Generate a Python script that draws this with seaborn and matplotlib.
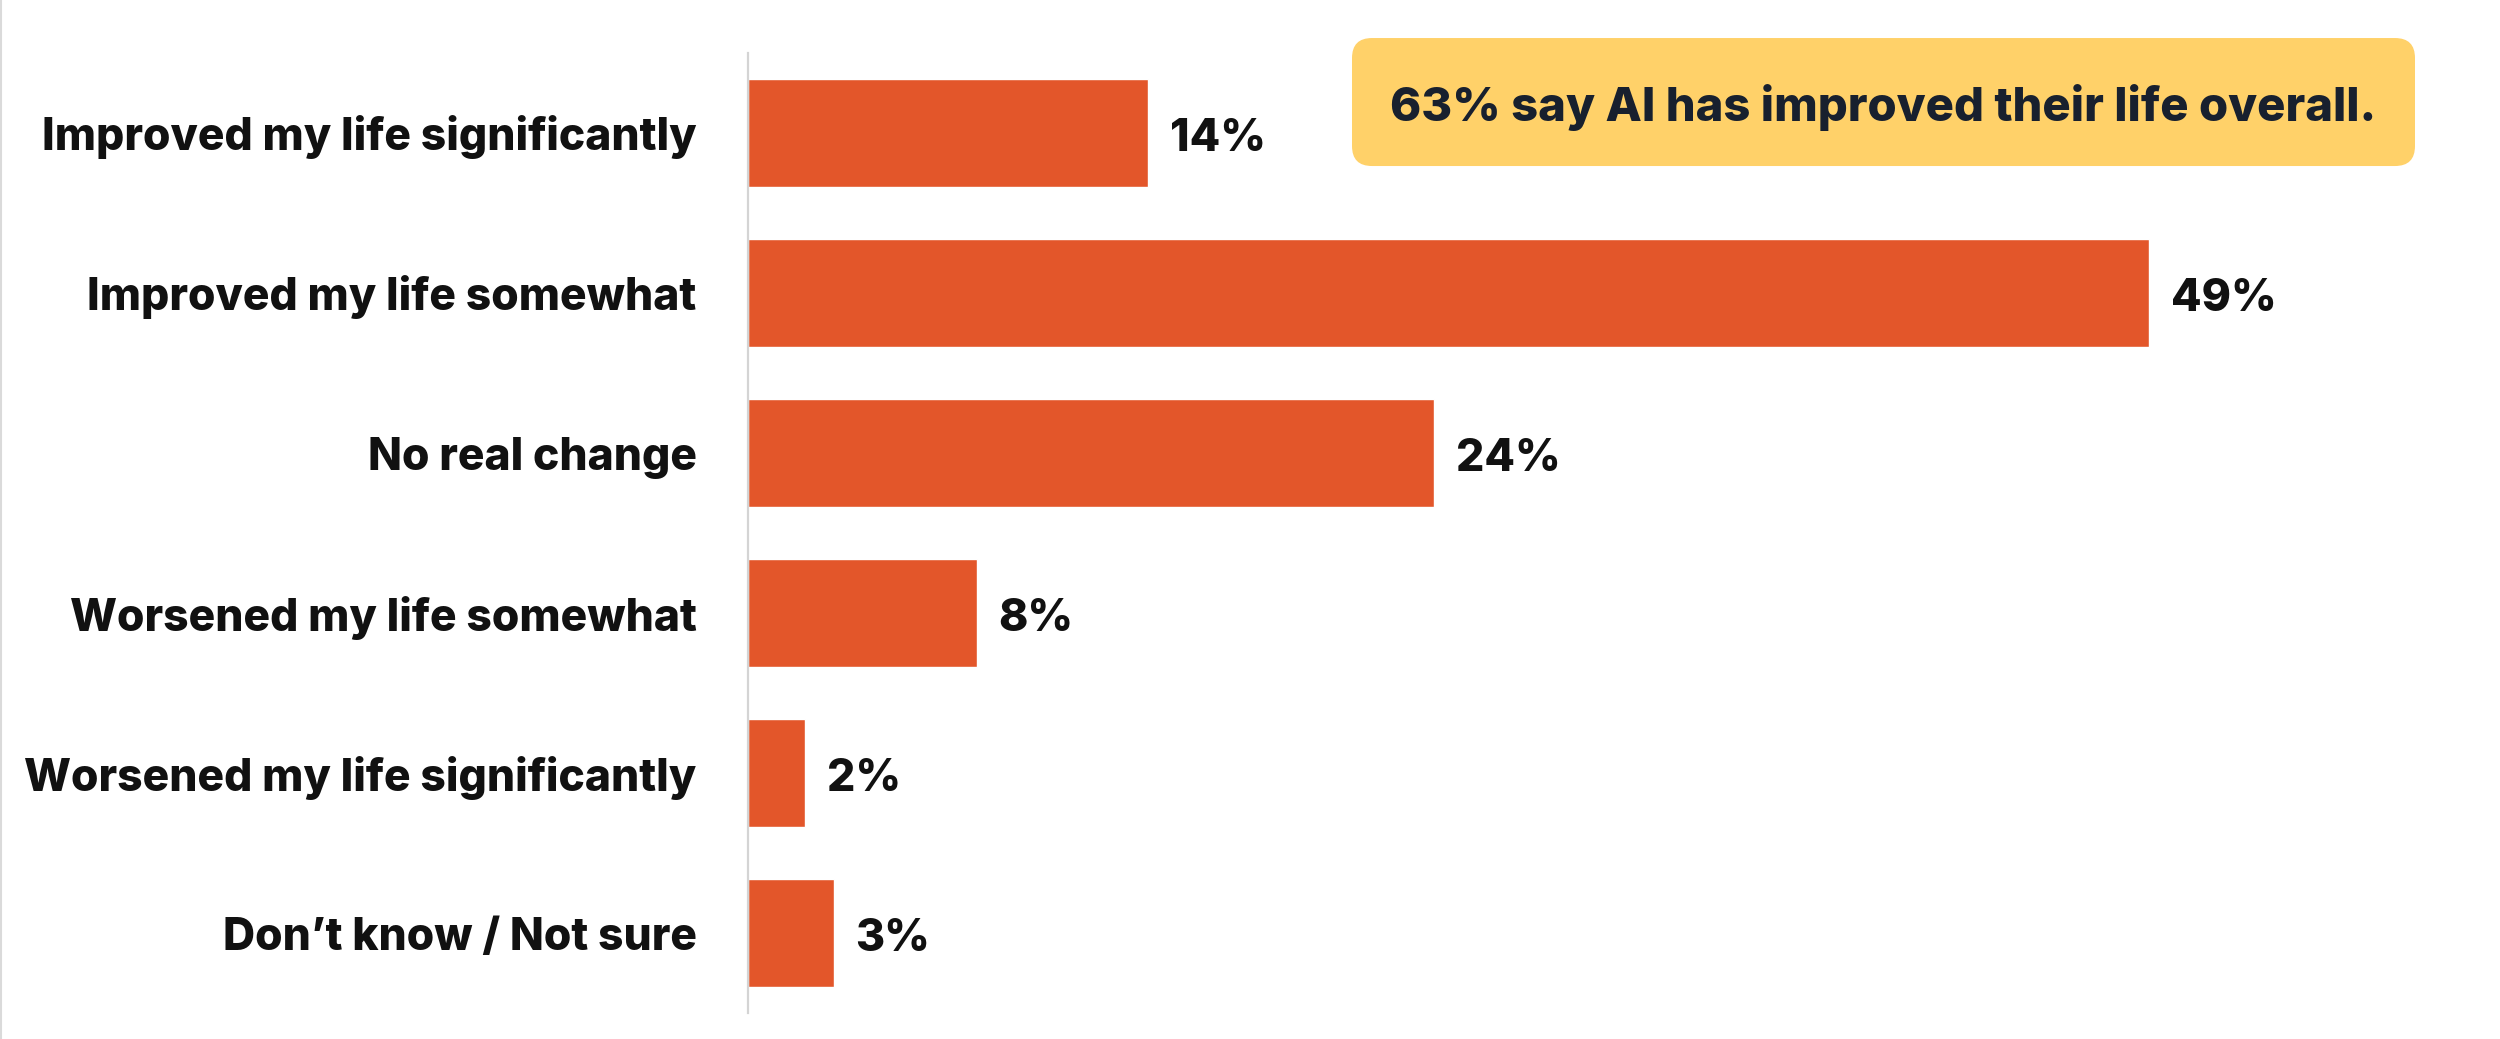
import matplotlib.pyplot as plt
import seaborn as sns
import pandas as pd
from matplotlib.lines import Line2D
from matplotlib.patches import FancyBboxPatch

# survey answers and shares (%)
answers = [
    "Improved my life significantly",
    "Improved my life somewhat",
    "No real change",
    "Worsened my life somewhat",
    "Worsened my life significantly",
    "Don\u2019t know / Not sure",
]
shares = [14, 49, 24, 8, 2, 3]
callout = "63% say AI has improved their life overall."

df = pd.DataFrame({"answer": answers, "share": shares})

sns.set_theme(style="white")
plt.rcParams["font.family"] = ["Inter", "DejaVu Sans"]

bar_color = "#E3562A"
ink = "#111111"
weight = "heavy"

fig = plt.figure(figsize=(25, 10.39), dpi=100)
ax = fig.add_axes([0.2992, 0.025, 0.6864, 0.924])

sns.barplot(data=df, y="answer", x="share", orient="h", color=bar_color,
            width=0.67, saturation=1, ax=ax)

ax.set_xlim(0, 60)
ax.set_ylim(5.5, -0.5)
ax.set_xlabel("")
ax.set_ylabel("")
ax.set_xticks([])
ax.tick_params(axis="y", length=0, pad=37)
for lbl in ax.get_yticklabels():
    lbl.set_fontsize(32)
    lbl.set_fontweight(weight)
    lbl.set_color(ink)

for s in ["top", "right", "bottom"]:
    ax.spines[s].set_visible(False)
ax.spines["left"].set_color("#D4D4D4")
ax.spines["left"].set_linewidth(1.6)

for i, v in enumerate(shares):
    ax.text(v + 0.75, i + 0.04, f"{v}%", va="center", ha="left",
            fontsize=32, fontweight=weight, color=ink)

# callout box (figure coords, aspect-corrected rounding)
aspect = 2500 / 1039
box = FancyBboxPatch((0.5408, 0.8402), 0.4252, 0.1232,
                     boxstyle="round,pad=0,rounding_size=0.008",
                     mutation_aspect=aspect, transform=fig.transFigure,
                     fc="#FFD169", ec="none")
fig.add_artist(box)
fig.text(0.7534, 0.9018, callout, ha="center", va="center_baseline",
         fontsize=34, fontweight=weight, color="#18202E")

# thin frame line at the left edge
fig.add_artist(Line2D([0.0006, 0.0006], [0, 1], transform=fig.transFigure,
                      color="#DADADA", lw=1.5))

fig.savefig("out.png", dpi=100, facecolor="white")
